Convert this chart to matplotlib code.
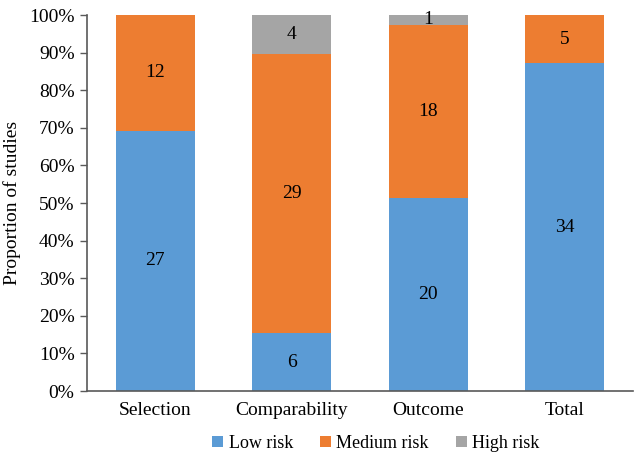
import matplotlib.pyplot as plt
import numpy as np
from matplotlib.ticker import PercentFormatter

plt.rcParams['font.family'] = ['Liberation Serif', 'DejaVu Serif']

categories = ['Selection', 'Comparability', 'Outcome', 'Total']
low_risk = [27, 6, 20, 34]
medium_risk = [12, 29, 18, 5]
high_risk = [0, 4, 1, 0]

series = [('Low risk', low_risk, '#5B9BD5'),
          ('Medium risk', medium_risk, '#ED7D31'),
          ('High risk', high_risk, '#A5A5A5')]

totals = np.array(low_risk) + np.array(medium_risk) + np.array(high_risk)
x = np.arange(len(categories))

fig = plt.figure(figsize=(6.36, 4.57), dpi=100)
ax = fig.add_axes([0.1368, 0.1444, 0.8585, 0.8226])

bottom = np.zeros(len(categories))
for name, counts, color in series:
    frac = np.array(counts) / totals * 100
    ax.bar(x, frac, 0.58, bottom=bottom, color=color, label=name)
    for xi, c, f, b in zip(x, counts, frac, bottom):
        if c > 0:
            ax.text(xi, b + f / 2, str(c), ha='center', va='center', fontsize=14)
    bottom = bottom + frac

ax.set_xlim(-0.5, 3.5)
ax.set_ylim(0, 100)
ax.set_yticks(np.arange(0, 101, 10))
ax.yaxis.set_major_formatter(PercentFormatter(decimals=0))
ax.set_xticks(x)
ax.set_xticklabels(categories)
ax.tick_params(axis='x', length=0, labelsize=14, pad=8)
ax.tick_params(axis='y', length=5, width=1, color='#595959', labelsize=14, pad=4)
for s in ['top', 'right']:
    ax.spines[s].set_visible(False)
for s in ['left', 'bottom']:
    ax.spines[s].set_color('#595959')
    ax.spines[s].set_linewidth(1.2)
ax.set_ylabel('Proportion of studies', fontsize=14, labelpad=6)

fig.legend(loc='center', bbox_to_anchor=(0.591, 0.03), ncol=3, frameon=False,
           fontsize=13, handlelength=0.6, handleheight=0.6, handletextpad=0.3,
           columnspacing=1.5)

fig.savefig('out.png', dpi=100)
